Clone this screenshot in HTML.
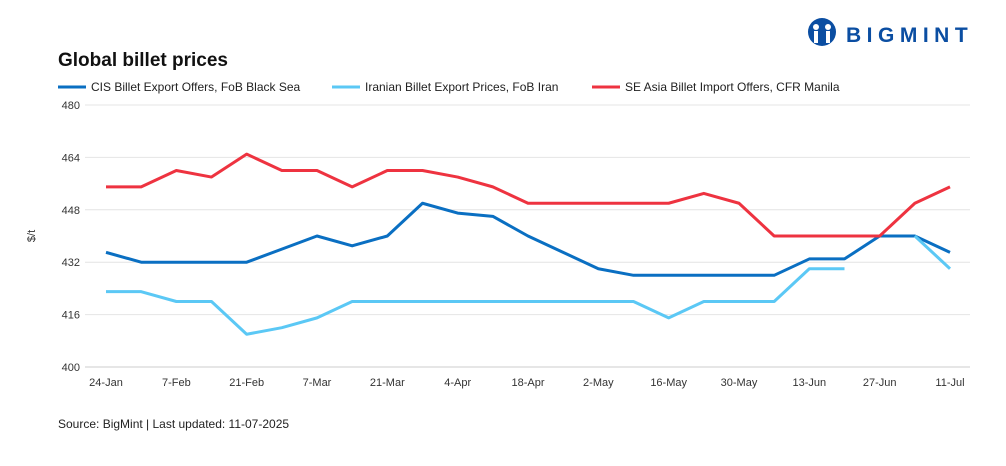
<!DOCTYPE html>
<html><head><meta charset="utf-8"><style>
body{margin:0;background:#fff;font-family:"Liberation Sans",sans-serif;}
#wrap{position:relative;width:1006px;height:466px;overflow:hidden;}
</style></head><body>
<div id="wrap">
<svg id="chart" width="1006" height="466">
<text x="58" y="66" font-size="19" font-weight="bold" fill="#111">Global billet prices</text>
<g>
<circle cx="822" cy="32" r="14" fill="#0b4ea2"/>
<circle cx="816" cy="27" r="3" fill="#fff"/><circle cx="828" cy="27" r="3" fill="#fff"/>
<rect x="814" y="31" width="4" height="12" fill="#fff"/><rect x="826" y="31" width="4" height="12" fill="#fff"/>
<text x="846" y="42" font-size="21" font-weight="bold" fill="#0b4ea2" letter-spacing="5.5">BIGMINT</text>
</g>
<g id="legend"></g>
<text transform="translate(35,236) rotate(-90)" font-size="11" fill="#333" text-anchor="middle">$/t</text>
<g id="grid"></g><g id="xt"></g><g id="series"></g>
<text x="58" y="428" font-size="12" fill="#222">Source: BigMint | Last updated: 11-07-2025</text>
</svg>
</div>
<script>
const categories=["24-Jan","31-Jan","7-Feb","14-Feb","21-Feb","28-Feb","7-Mar","14-Mar","21-Mar","28-Mar","4-Apr","11-Apr","18-Apr","25-Apr","2-May","9-May","16-May","23-May","30-May","6-Jun","13-Jun","20-Jun","27-Jun","4-Jul","11-Jul"];
const tickLabels=["24-Jan","7-Feb","21-Feb","7-Mar","21-Mar","4-Apr","18-Apr","2-May","16-May","30-May","13-Jun","27-Jun","11-Jul"];
const yTicks=[400,416,432,448,464,480];
const cisValues=[435,432,432,432,432,436,440,437,440,450,447,446,440,435,430,428,428,428,428,428,433,433,440,440,435];
const iranValues=[423,423,420,420,410,412,415,420,420,420,420,420,420,420,420,420,415,420,420,420,430,430,null,440,430];
const seaValues=[455,455,460,458,465,460,460,455,460,460,458,455,450,450,450,450,450,453,450,440,440,440,440,450,455];
const seriesNames=["CIS Billet Export Offers, FoB Black Sea","Iranian Billet Export Prices, FoB Iran","SE Asia Billet Import Offers, CFR Manila"];
const colors=["#0a6fc2","#5bc8f5","#ee3340"];
const NS="http://www.w3.org/2000/svg";
const x0=106,x1=950,yTop=105,yBot=367,gl=85,gr=970;
const xs=i=>x0+(x1-x0)*i/(categories.length-1);
const ys=v=>yBot-(v-400)/(480-400)*(yBot-yTop);
function mk(t,a,p){const e=document.createElementNS(NS,t);for(const k in a)e.setAttribute(k,a[k]);p.appendChild(e);return e;}
const grid=document.getElementById('grid');
yTicks.forEach(v=>{
 const l=mk('line',{x1:gl,x2:gr,y1:ys(v),y2:ys(v),stroke:v===400?'#ccc':'#e4e4e4','stroke-width':1},grid);
 
 
 const t=mk('text',{x:80,y:ys(v)+4,'font-size':11,fill:'#333','text-anchor':'end'},grid);t.textContent=v;
 
 
});
const xt=document.getElementById('xt');
tickLabels.forEach(lab=>{
 const i=categories.indexOf(lab);
 const t=mk('text',{x:xs(i),y:386,'font-size':11,fill:'#333','text-anchor':'middle'},xt);t.textContent=lab;
 
 
});
const sg=document.getElementById('series');
[cisValues,iranValues,seaValues].forEach((vals,si)=>{
 let d='',pen=false;
 vals.forEach((v,i)=>{if(v==null){pen=false;return;}d+=(pen?'L':'M')+xs(i)+' '+ys(v)+' ';pen=true;});
 const p=mk('path',{d:d,fill:'none',stroke:colors[si],'stroke-width':3,'stroke-linejoin':'round'},sg);
 
 
});
const lg=document.getElementById('legend');
const lx=[58,332,592];
seriesNames.forEach((n,i)=>{
 const l=mk('line',{x1:lx[i],x2:lx[i]+28,y1:87,y2:87,stroke:colors[i],'stroke-width':3},lg);
 
 
 const t=mk('text',{x:lx[i]+33,y:91,'font-size':12,fill:'#222'},lg);t.textContent=n;
 
 
});
</script>
</body></html>
